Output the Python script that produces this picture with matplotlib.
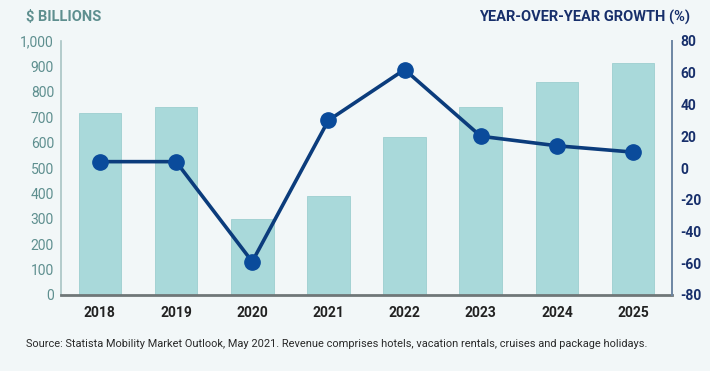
import numpy as np
import matplotlib.pyplot as plt

# data
years = ['2018', '2019', '2020', '2021', '2022', '2023', '2024', '2025']
revenue = [716, 739, 300, 390, 623, 741, 840, 913]
growth = [4, 4, -59, 30, 62, 20, 14, 10]
left_ticks = [0, 100, 200, 300, 400, 500, 600, 700, 800, 900, 1000]
right_ticks = [-80, -60, -40, -20, 0, 20, 40, 60, 80]

bg = '#f2f7f8'
bar_col = '#a9d9da'
line_col = '#0b3c7c'
dot_col = '#0a4b9b'
teal_txt = '#5e8f8f'
navy_txt = '#172f6b'

plt.rcParams['font.family'] = ['Roboto', 'DejaVu Sans']
plt.rcParams['axes.unicode_minus'] = False

fig = plt.figure(figsize=(7.1, 3.71), dpi=100, facecolor=bg)
ax = fig.add_axes([61/710, 1-295/371, (672-61)/710, (295-41)/371])
ax.set_facecolor(bg)

x = np.arange(len(years))
ax.bar(x, revenue, width=0.56, color=bar_col, edgecolor='#9ccfcf', linewidth=0.6, zorder=2)
ax.set_xlim(-0.51, len(years) - 0.49)
ax.set_ylim(0, 1000)
ax.set_yticks(left_ticks)
ax.set_yticklabels([f'{v:,}' for v in left_ticks])
ax.set_xticks(x)
ax.set_xticklabels(years, fontweight='bold', color='#222222')
ax.tick_params(axis='y', length=0, pad=5, labelsize=10, labelcolor=teal_txt)
ax.tick_params(axis='x', length=0, pad=8, labelsize=10)
for s in ['top', 'right']:
    ax.spines[s].set_visible(False)
ax.spines['left'].set_color('#a8c4c4')
ax.spines['left'].set_linewidth(1.2)
ax.spines['bottom'].set_color('#6f7778')
ax.spines['bottom'].set_linewidth(2)

ax2 = ax.twinx()
ax2.plot(x, growth, color=line_col, lw=2.6, marker='o', markersize=11,
         markerfacecolor=dot_col, markeredgecolor=dot_col, zorder=5)
ax2.set_ylim(-80, 80)
ax2.set_yticks(right_ticks)
ax2.tick_params(axis='y', length=0, pad=6, labelsize=10, labelcolor=navy_txt)
for t in ax2.get_yticklabels():
    t.set_fontweight('bold')
for s in ['top', 'left', 'bottom']:
    ax2.spines[s].set_visible(False)
ax2.spines['right'].set_color('#6d86a3')
ax2.spines['right'].set_linewidth(1.4)

fig.text(26/710, 1-17/371, '$ BILLIONS', fontsize=10.5, fontweight='bold',
         color=teal_txt, va='center', ha='left')
fig.text(690/710, 1-17/371, 'YEAR-OVER-YEAR GROWTH (%)', fontsize=10.5, fontweight='bold',
         color=navy_txt, va='center', ha='right')
src = fig.text(26/710, 1-344/371,
               'Source: Statista Mobility Market Outlook, May 2021. Revenue comprises hotels, '
               'vacation rentals, cruises and package holidays.',
               fontsize=10, color='#2a2a2a', va='center', ha='left')

# shrink the source line to the width it has in the original (about 621 px)
r = fig.canvas.get_renderer()
w = src.get_window_extent(renderer=r).width
src.set_fontsize(10 * 621 / w)

fig.savefig('out.png', dpi=100, facecolor=bg)
